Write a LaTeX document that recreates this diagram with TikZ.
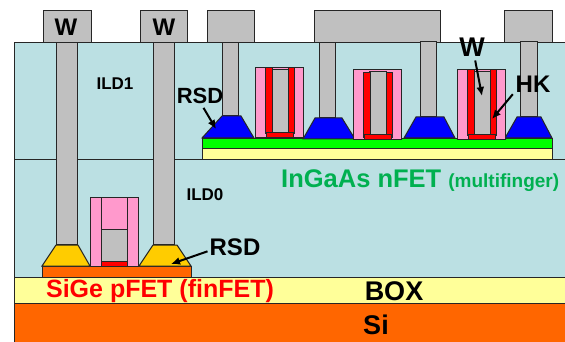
\documentclass[tikz,border=0pt]{standalone}
\usepackage{fontspec}
\setmainfont{Liberation Sans}
\usetikzlibrary{arrows.meta}

\definecolor{ildblue}{HTML}{BBE0E3}
\definecolor{metalgray}{HTML}{C0C0C0}
\definecolor{boxyellow}{HTML}{FFFF99}
\definecolor{siorange}{HTML}{FF6600}
\definecolor{spacerpink}{HTML}{FF99CC}
\definecolor{rsdgold}{HTML}{FFCC00}
\definecolor{labelgreen}{HTML}{00B050}

\begin{document}
\begin{tikzpicture}[x=1pt, y=-1pt]
    \tikzstyle{layer}=[
        draw = black!85,
        line width = 1pt
    ]
    \tikzstyle{big label}=[
        font = \fontsize{24}{24}\selectfont\bfseries,
        inner sep = 0pt
    ]
    \tikzstyle{huge label}=[
        font = \fontsize{27}{27}\selectfont\bfseries,
        inner sep = 0pt
    ]
    \tikzstyle{small label}=[
        font = \fontsize{17}{17}\selectfont\bfseries,
        inner sep = 0pt
    ]
    \tikzstyle{pointer}=[
        -{Latex[length=9pt, width=8pt]},
        line width = 2pt,
        black,
        shorten <= 1pt
    ]

    \useasboundingbox (0, 0) rectangle (565, 342);

    % dielectric and substrate
    \draw[layer, fill=ildblue]    (14, 43) rectangle (565, 277);
    \draw[layer]                  (14, 160) -- (565, 160);
    \draw[layer, fill=boxyellow]  (14, 277) rectangle (565, 303);
    \fill[siorange]               (14, 303) rectangle (565, 342);
    \draw[layer]                  (14, 342) -- (14, 303) -- (565, 303);

    % pFET
    \draw[layer, fill=siorange]   (42, 266) rectangle (191, 277);
    \foreach \x/\w in {56/43.5, 153.5/140}{
        \draw[layer, fill=metalgray] (\x, 43) rectangle ++(21, 201);
        \draw[layer, fill=metalgray] (\w, 11) rectangle ++(47.5, 32);
    }
    \draw[layer, fill=rsdgold]    (42, 266) -- (56, 245) -- (78, 245) -- (90, 266) -- cycle;
    \draw[layer, fill=rsdgold]    (139, 266) -- (153, 245) -- (177, 245) -- (191, 266) -- cycle;
    \draw[layer, fill=spacerpink] (90.5, 197) rectangle (138, 266);
    \draw[layer]                  (101, 197) -- (101, 266);
    \draw[layer]                  (127.5, 197) -- (127.5, 266);
    \draw[layer, fill=metalgray]  (101, 229) rectangle (127.5, 261);
    \fill[red]                    (101.5, 261.5) rectangle (127, 265.5);

    % nFET
    \draw[layer, fill=boxyellow]  (202, 149) rectangle (552, 160);
    \draw[layer, fill=green]      (202, 139) rectangle (552, 149);
    \draw[layer, fill=metalgray]  (207, 11) rectangle (254, 43);
    \draw[layer, fill=metalgray]  (314, 11) rectangle (440, 43);
    \draw[layer, fill=metalgray]  (504, 11) rectangle (552, 43);
    \draw[layer, fill=metalgray]  (222, 43) rectangle (238, 116);
    \draw[layer, fill=metalgray]  (319, 43) rectangle (335, 118);
    \draw[layer, fill=metalgray]  (420, 42) rectangle (436.5, 117);
    \draw[layer, fill=metalgray]  (520, 42) rectangle (537, 117);
    \draw[layer, fill=blue]       (202, 138) -- (222, 116) -- (241, 116) -- (254, 138) -- cycle;
    \draw[layer, fill=blue]       (303, 139) -- (315, 118) -- (342, 118) -- (355, 139) -- cycle;
    \draw[layer, fill=blue]       (404, 138) -- (416, 117) -- (444, 117) -- (455, 138) -- cycle;
    \draw[layer, fill=blue]       (505, 138) -- (517, 117) -- (541, 117) -- (552, 138) -- cycle;

    \foreach \x/\y/\z in {255/68/0, 353/70/1, 457/70/0}{
        \draw[layer, fill=spacerpink] (\x, \y) rectangle ++(48, 70);
        \draw[layer, fill=metalgray]  (\x+16, \y+2) rectangle ++(17, 63);
        \draw[layer, fill=red]        (\x+10, \y+\z*3) rectangle ++(7, 66-\z);
        \draw[layer, fill=red]        (\x+33, \y+\z*3) rectangle ++(6.5, 66-\z);
        \draw[layer, fill=red]        (\x+11, \y+65) rectangle ++(27, 5);
    }

    % labels
    \node[big label]   (wa)     at (66, 27)    {W};
    \node[big label]   (wb)     at (164, 27)   {W};
    \node[small label] (ildone) at (115, 84)   {ILD1};
    \node[small label] (ildzero) at (205, 195) {ILD0};
    \node[big label, font=\fontsize{22}{22}\selectfont\bfseries] (rsdn) at (200, 96) {RSD};
    \node[big label]   (rsdp)   at (235, 247)  {RSD};
    \node[huge label]  (wg)     at (472, 47)   {W};
    \node[big label]   (hk)     at (533, 84)   {HK};
    \node[big label, font=\fontsize{25.5}{26}\selectfont\bfseries, labelgreen, anchor=west] (ingaas) at (281, 181)
        {InGaAs nFET \fontsize{19}{19}\selectfont (multifinger)};
    \node[big label, font=\fontsize{25}{25}\selectfont\bfseries, red] (sige) at (160, 291) {SiGe pFET (finFET)};
    \node[huge label]  (box)    at (394, 291)  {BOX};
    \node[huge label]  (si)     at (376, 325)  {Si};

    \coordinate (tipn)  at (216, 129);
    \coordinate (tipp)  at (171, 264);
    \coordinate (tipw)  at (482, 96);
    \coordinate (tiphk) at (492, 119);

    \draw[pointer] (rsdn) ++(3, 11) -- (tipn);
    \draw[pointer] (rsdp.west) ++(-1, 4) -- (tipp);
    \draw[pointer] (wg.south) ++(3, 3) -- (tipw);
    \draw[pointer] (hk.south west) ++(-2, 1) -- (tiphk);
\end{tikzpicture}
\end{document}
